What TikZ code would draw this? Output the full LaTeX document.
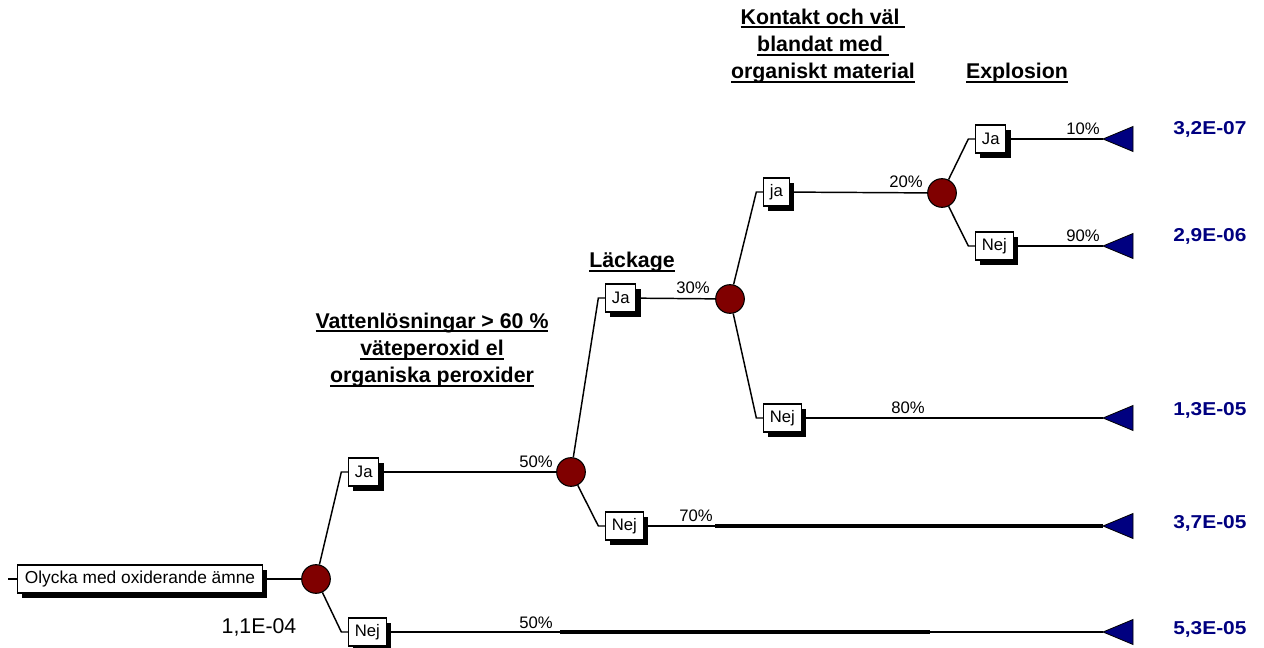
\documentclass[tikz,border=0pt]{standalone}
\usepackage{fontspec}
\setmainfont{Liberation Sans}
\newfontfamily\valfont[FakeStretch=1.12]{Liberation Sans}
\usetikzlibrary{shadows}
\definecolor{chancered}{RGB}{128,0,0}
\definecolor{endnavy}{RGB}{0,0,128}
% bold heading with a heavy rule just under the baseline
\newcommand\ulhead[1]{\setbox0\hbox{#1}\rlap{\rule[-3.2pt]{\wd0}{1.5pt}}\box0}

\begin{document}
\begin{tikzpicture}[x=0.75pt,y=-0.75pt,
  link/.style={line width=1.1pt},
  heavy/.style={line width=3pt},
  chance/.style={circle,draw=black,line width=0.8pt,fill=chancered,minimum size=21.5pt,inner sep=0pt},
  choice/.style={draw=black,line width=0.8pt,fill=white,inner xsep=4.8pt,inner ysep=0pt,
    minimum height=21pt,font=\fontsize{12.5}{14}\selectfont,anchor=west,
    drop shadow={shadow xshift=3.5pt,shadow yshift=-3.5pt,fill=black,opacity=1}},
  pct/.style={font=\fontsize{12.5}{14}\selectfont,anchor=base east,inner sep=0pt},
  val/.style={font=\valfont\bfseries\fontsize{14}{16}\selectfont,text=endnavy,anchor=base west,inner sep=0pt},
  head/.style={font=\bfseries\fontsize{16}{20.5}\selectfont,align=center,inner sep=0pt},
  endtri/.style={draw=black,line width=0.6pt,fill=endnavy}]

\useasboundingbox (0,0) rectangle (1264,648);

% headings of the stages
\node[head] (h1) at (432,350) {\ulhead{Vattenlösningar > 60 \%}\\ \ulhead{väteperoxid el}\\ \ulhead{organiska peroxider}};
\node[head] (h2) at (632,262) {\ulhead{Läckage}};
\node[head] (h3) at (823,46) {\ulhead{Kontakt och väl\ }\\ \ulhead{blandat med\ }\\ \ulhead{organiskt material}};
\node[head] (h4) at (1017,73) {\ulhead{Explosion}};

% root event
\coordinate (in) at (8,579);
\node[choice,font=\fontsize{13}{15}\selectfont,inner xsep=5.5pt] (root) at (17,579) {Olycka med oxiderande ämne};
\node[font=\fontsize{16}{18}\selectfont,inner sep=0pt] (freq) at (259,627) {1,1E-04};

% chance nodes
\node[chance] (c1) at (316,579) {};
\node[chance] (c2) at (571,472) {};
\node[chance] (c3) at (730,299) {};
\node[chance] (c4) at (942,193) {};

% branch boxes
\node[choice] (ja1) at (348,472) {Ja};
\node[choice] (nej1) at (348,632) {Nej};
\node[choice] (ja2) at (605,298) {Ja};
\node[choice] (nej2) at (605,526) {Nej};
\node[choice] (ja3) at (763,192) {ja};
\node[choice] (nej3) at (763,418) {Nej};
\node[choice] (ja4) at (975,139) {Ja};
\node[choice] (nej4) at (975,246) {Nej};

% end points
\coordinate (e1) at (1103,139);
\coordinate (e2) at (1103,246);
\coordinate (e3) at (1103,418);
\coordinate (e4) at (1103,526);
\coordinate (e5) at (1103,632);

% connectors
\draw[link] (in) -- (root);
\draw[link] (root) -- (c1);
\draw[link] (c1) -- ([xshift=-5pt]ja1.west) -- (ja1.west);
\draw[link] (c1) -- ([xshift=-5pt]nej1.west) -- (nej1.west);
\draw[link] (ja1) -- (c2);
\draw[link] (nej1) -- (e5);
\draw[link] (c2) -- ([xshift=-5pt]ja2.west) -- (ja2.west);
\draw[link] (c2) -- ([xshift=-5pt]nej2.west) -- (nej2.west);
\draw[link] (ja2) -- (c3);
\draw[link] (nej2) -- (e4);
\draw[link] (c3) -- ([xshift=-5pt]ja3.west) -- (ja3.west);
\draw[link] (c3) -- ([xshift=-5pt]nej3.west) -- (nej3.west);
\draw[link] (ja3) -- (c4);
\draw[link] (nej3) -- (e3);
\draw[link] (c4) -- ([xshift=-5pt]ja4.west) -- (ja4.west);
\draw[link] (c4) -- ([xshift=-5pt]nej4.west) -- (nej4.west);
\draw[link] (ja4) -- (e1);
\draw[link] (nej4) -- (e2);

% heavier stretches of the two lower lines
\draw[heavy] (560,632) -- (930,632);
\draw[heavy] (715,526) -- (1103,526);

% end triangles
\foreach \e in {e1,e2,e3,e4,e5}
  \draw[endtri] (\e) -- ++(30,-12.5) -- ++(0,25) -- cycle;

% branch probabilities
\node[pct] (p1) at (553,468) {50\%};
\node[pct] (p2) at (553,628) {50\%};
\node[pct] (p3) at (710,294) {30\%};
\node[pct] (p4) at (713,522) {70\%};
\node[pct] (p5) at (923,188) {20\%};
\node[pct] (p6) at (925,414) {80\%};
\node[pct] (p7) at (1100,135) {10\%};
\node[pct] (p8) at (1100,242) {90\%};

% outcome frequencies
\node[val] (v1) at (1173,135) {3,2E-07};
\node[val] (v2) at (1173,242) {2,9E-06};
\node[val] (v3) at (1173,416) {1,3E-05};
\node[val] (v4) at (1173,528) {3,7E-05};
\node[val] (v5) at (1173,634) {5,3E-05};
\end{tikzpicture}
\end{document}
